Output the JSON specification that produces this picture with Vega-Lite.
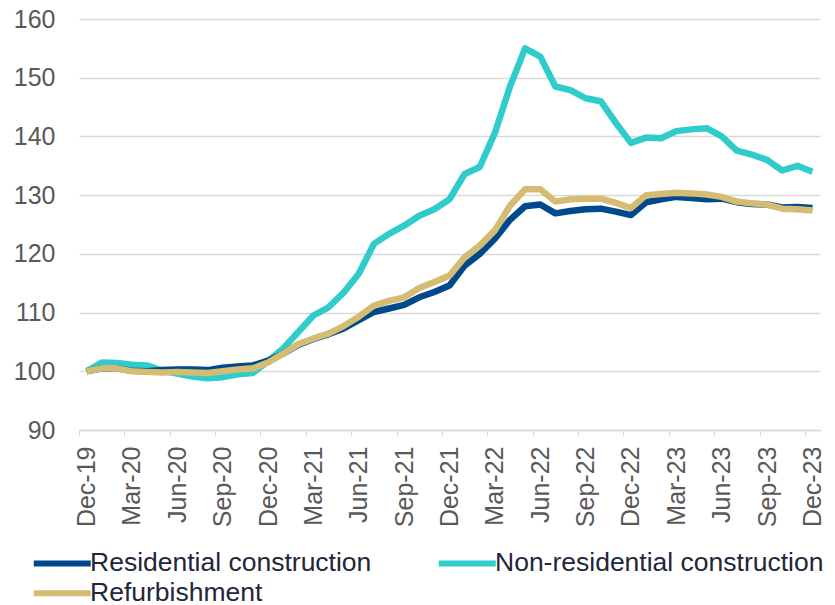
{
  "$schema": "https://vega.github.io/schema/vega-lite/v6.json",
  "width": 741,
  "height": 411,
  "autosize": "none",
  "padding": {"left": 79, "top": 19, "right": 15, "bottom": 175},
  "background": "white",
  "config": {"view": {"stroke": null}, "font": "Liberation Sans"},
  "data": {"values": [
    {"i": 0, "m": "Dec-19", "Residential construction": 100.0, "Non-residential construction": 100.0, "Refurbishment": 100.0},
    {"i": 1, "m": "Jan-20", "Residential construction": 100.5, "Non-residential construction": 101.5, "Refurbishment": 100.5},
    {"i": 2, "m": "Feb-20", "Residential construction": 100.5, "Non-residential construction": 101.4, "Refurbishment": 100.5},
    {"i": 3, "m": "Mar-20", "Residential construction": 100.1, "Non-residential construction": 101.1, "Refurbishment": 100.0},
    {"i": 4, "m": "Apr-20", "Residential construction": 100.0, "Non-residential construction": 101.0, "Refurbishment": 99.9},
    {"i": 5, "m": "May-20", "Residential construction": 100.2, "Non-residential construction": 100.1, "Refurbishment": 99.8},
    {"i": 6, "m": "Jun-20", "Residential construction": 100.3, "Non-residential construction": 99.6, "Refurbishment": 99.9},
    {"i": 7, "m": "Jul-20", "Residential construction": 100.3, "Non-residential construction": 99.1, "Refurbishment": 99.8},
    {"i": 8, "m": "Aug-20", "Residential construction": 100.2, "Non-residential construction": 98.8, "Refurbishment": 99.7},
    {"i": 9, "m": "Sep-20", "Residential construction": 100.6, "Non-residential construction": 99.0, "Refurbishment": 100.0},
    {"i": 10, "m": "Oct-20", "Residential construction": 100.8, "Non-residential construction": 99.5, "Refurbishment": 100.3},
    {"i": 11, "m": "Nov-20", "Residential construction": 101.0, "Non-residential construction": 99.7, "Refurbishment": 100.5},
    {"i": 12, "m": "Dec-20", "Residential construction": 101.8, "Non-residential construction": 101.7, "Refurbishment": 101.5},
    {"i": 13, "m": "Jan-21", "Residential construction": 103.0, "Non-residential construction": 103.9, "Refurbishment": 103.0},
    {"i": 14, "m": "Feb-21", "Residential construction": 104.5, "Non-residential construction": 106.7, "Refurbishment": 104.6},
    {"i": 15, "m": "Mar-21", "Residential construction": 105.5, "Non-residential construction": 109.5, "Refurbishment": 105.6},
    {"i": 16, "m": "Apr-21", "Residential construction": 106.3, "Non-residential construction": 110.9, "Refurbishment": 106.4},
    {"i": 17, "m": "May-21", "Residential construction": 107.3, "Non-residential construction": 113.4, "Refurbishment": 107.7},
    {"i": 18, "m": "Jun-21", "Residential construction": 108.7, "Non-residential construction": 116.6, "Refurbishment": 109.3},
    {"i": 19, "m": "Jul-21", "Residential construction": 110.1, "Non-residential construction": 121.7, "Refurbishment": 111.2},
    {"i": 20, "m": "Aug-21", "Residential construction": 110.7, "Non-residential construction": 123.4, "Refurbishment": 112.0},
    {"i": 21, "m": "Sep-21", "Residential construction": 111.3, "Non-residential construction": 124.8, "Refurbishment": 112.6},
    {"i": 22, "m": "Oct-21", "Residential construction": 112.6, "Non-residential construction": 126.5, "Refurbishment": 114.2},
    {"i": 23, "m": "Nov-21", "Residential construction": 113.5, "Non-residential construction": 127.6, "Refurbishment": 115.2},
    {"i": 24, "m": "Dec-21", "Residential construction": 114.6, "Non-residential construction": 129.3, "Refurbishment": 116.3},
    {"i": 25, "m": "Jan-22", "Residential construction": 118.0, "Non-residential construction": 133.6, "Refurbishment": 119.4},
    {"i": 26, "m": "Feb-22", "Residential construction": 120.0, "Non-residential construction": 134.8, "Refurbishment": 121.4},
    {"i": 27, "m": "Mar-22", "Residential construction": 122.6, "Non-residential construction": 140.6, "Refurbishment": 124.0},
    {"i": 28, "m": "Apr-22", "Residential construction": 125.8, "Non-residential construction": 148.5, "Refurbishment": 128.2},
    {"i": 29, "m": "May-22", "Residential construction": 128.1, "Non-residential construction": 155.0, "Refurbishment": 131.0},
    {"i": 30, "m": "Jun-22", "Residential construction": 128.4, "Non-residential construction": 153.6, "Refurbishment": 131.0},
    {"i": 31, "m": "Jul-22", "Residential construction": 126.9, "Non-residential construction": 148.5, "Refurbishment": 128.9},
    {"i": 32, "m": "Aug-22", "Residential construction": 127.3, "Non-residential construction": 147.9, "Refurbishment": 129.3},
    {"i": 33, "m": "Sep-22", "Residential construction": 127.6, "Non-residential construction": 146.5, "Refurbishment": 129.4},
    {"i": 34, "m": "Oct-22", "Residential construction": 127.7, "Non-residential construction": 146.0, "Refurbishment": 129.4},
    {"i": 35, "m": "Nov-22", "Residential construction": 127.2, "Non-residential construction": 142.3, "Refurbishment": 128.7},
    {"i": 36, "m": "Dec-22", "Residential construction": 126.6, "Non-residential construction": 138.9, "Refurbishment": 127.8},
    {"i": 37, "m": "Jan-23", "Residential construction": 128.8, "Non-residential construction": 139.8, "Refurbishment": 130.0},
    {"i": 38, "m": "Feb-23", "Residential construction": 129.3, "Non-residential construction": 139.7, "Refurbishment": 130.2},
    {"i": 39, "m": "Mar-23", "Residential construction": 129.7, "Non-residential construction": 140.9, "Refurbishment": 130.4},
    {"i": 40, "m": "Apr-23", "Residential construction": 129.5, "Non-residential construction": 141.2, "Refurbishment": 130.3},
    {"i": 41, "m": "May-23", "Residential construction": 129.3, "Non-residential construction": 141.4, "Refurbishment": 130.1},
    {"i": 42, "m": "Jun-23", "Residential construction": 129.4, "Non-residential construction": 140.0, "Refurbishment": 129.7},
    {"i": 43, "m": "Jul-23", "Residential construction": 128.8, "Non-residential construction": 137.6, "Refurbishment": 128.9},
    {"i": 44, "m": "Aug-23", "Residential construction": 128.5, "Non-residential construction": 136.9, "Refurbishment": 128.6},
    {"i": 45, "m": "Sep-23", "Residential construction": 128.4, "Non-residential construction": 136.0, "Refurbishment": 128.4},
    {"i": 46, "m": "Oct-23", "Residential construction": 127.9, "Non-residential construction": 134.2, "Refurbishment": 127.7},
    {"i": 47, "m": "Nov-23", "Residential construction": 128.0, "Non-residential construction": 135.0, "Refurbishment": 127.6},
    {"i": 48, "m": "Dec-23", "Residential construction": 127.8, "Non-residential construction": 134.0, "Refurbishment": 127.4}
  ]},
  "transform": [
    {"fold": ["Non-residential construction", "Residential construction", "Refurbishment"], "as": ["Series", "v"]}
  ],
  "mark": {"type": "line", "strokeWidth": 6.5, "strokeJoin": "round"},
  "encoding": {
    "x": {
      "field": "m", "type": "ordinal", "sort": null,
      "scale": {"type": "point", "padding": 0.5},
      "axis": {
        "title": null,
        "values": ["Dec-19","Mar-20","Jun-20","Sep-20","Dec-20","Mar-21","Jun-21","Sep-21","Dec-21","Mar-22","Jun-22","Sep-22","Dec-22","Mar-23","Jun-23","Sep-23","Dec-23"],
        "labelAngle": -90,
        "labelFontSize": 25,
        "labelColor": "#595959",
        "labelPadding": 10,
        "tickSize": 6,
        "tickColor": "#d9d9d9",
        "tickOffset": -7.56,
        "labelOffset": 7.56,
        "domainColor": "#d9d9d9",
        "domainWidth": 1.5,
        "grid": false
      }
    },
    "y": {
      "field": "v", "type": "quantitative",
      "scale": {"domain": [90, 160], "nice": false, "zero": false},
      "axis": {
        "title": null,
        "values": [90, 100, 110, 120, 130, 140, 150, 160],
        "labelFontSize": 25,
        "labelColor": "#595959",
        "labelPadding": 24,
        "ticks": false,
        "domain": false,
        "gridColor": "#d9d9d9",
        "gridWidth": 1.5
      }
    },
    "order": {"field": "i", "type": "quantitative"},
    "color": {
      "field": "Series", "type": "nominal",
      "scale": {
        "domain": ["Residential construction", "Non-residential construction", "Refurbishment"],
        "range": ["#00498A", "#30CCCC", "#D5BC73"]
      },
      "legend": {
        "orient": "none",
        "legendX": -30,
        "legendY": 531,
        "direction": "horizontal",
        "columns": 2,
        "title": null,
        "symbolType": "M-2.85,0H2.85",
        "symbolSize": 400,
        "symbolStrokeWidth": 6,
        "labelFontSize": 26.5,
        "labelColor": "#22263a",
        "labelOffset": 14.5,
        "labelLimit": 600,
        "columnPadding": 54,
        "rowPadding": 3,
        "padding": 0
      }
    }
  }
}
